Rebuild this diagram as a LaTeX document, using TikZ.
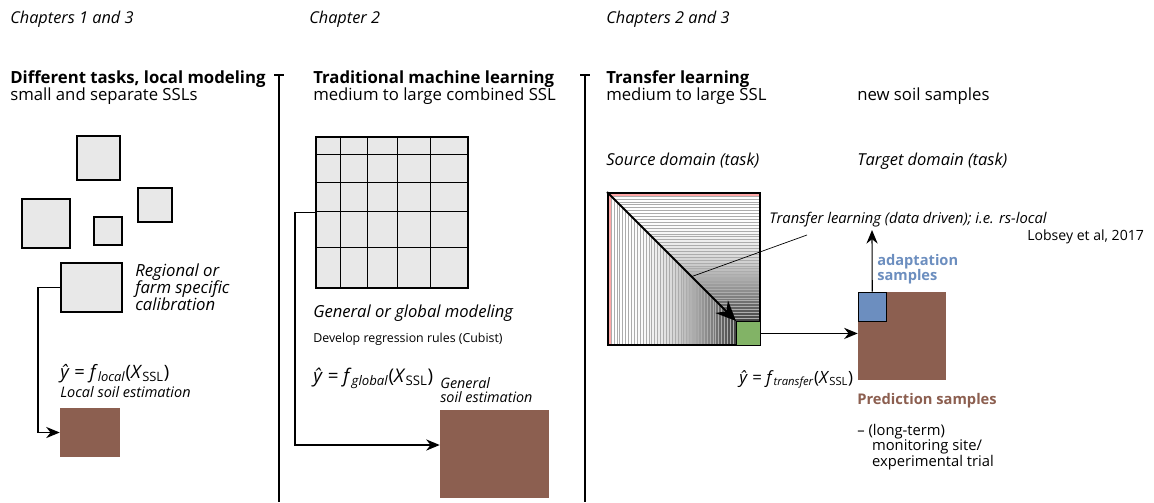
\documentclass[tikz,border=0pt]{standalone}
\usepackage{fontspec}
\setmainfont{Open Sans}
\usetikzlibrary{arrows.meta, positioning, calc}

\definecolor{soilbrown}{RGB}{140,95,80}
\definecolor{adaptblue}{RGB}{108,142,191}
\definecolor{srcgreen}{RGB}{130,179,102}
\definecolor{sslgray}{RGB}{232,232,232}

\begin{document}
\begin{tikzpicture}[
        x=0.025cm, y=-0.025cm,
        conn/.style={-{Stealth[length=3.4mm, width=2.8mm]}, line width=0.8pt},
        bigarr/.style={-{Stealth[length=5mm, width=4.4mm, inset=1.6mm]}, line width=1.5pt},
        sepline/.style={line width=0.8pt},
        px/.style 2 args={minimum width=#1*0.025cm, minimum height=#2*0.025cm},
        sslbox/.style={draw, line width=1.4pt, fill=sslgray, inner sep=0pt},
        soilbox/.style={fill=soilbrown, inner sep=0pt},
        chap/.style={anchor=base west, inner sep=0pt, font=\fontsize{11.6}{14}\selectfont\itshape},
        head/.style={anchor=base west, inner sep=0pt, font=\fontsize{11.9}{14}\selectfont\bfseries},
        lbl/.style={anchor=base west, inner sep=0pt, font=\fontsize{11.9}{14}\selectfont},
        ilbl/.style={anchor=base west, inner sep=0pt, font=\fontsize{11.7}{14}\selectfont\itshape},
        snote/.style={anchor=base west, inner sep=0pt, font=\fontsize{10.3}{12}\selectfont\itshape},
        formula/.style={anchor=base west, inner sep=0pt},
    ]
    \useasboundingbox (0,0) rectangle (1154,502);

    %% ---- Chapter labels ----
    \node[chap] (chapA) at (10,23.5) {Chapters 1 and 3};
    \node[chap] (chapB) at (309,23.5) {Chapter 2};
    \node[chap] (chapC) at (606,23.5) {Chapters 2 and 3};

    %% ---- Separators ----
    \draw[sepline] (279,75) -- (279,502);
    \draw[sepline] (274,75) -- (284,75);
    \draw[sepline] (585,75) -- (585,502);
    \draw[sepline] (580,75) -- (590,75);

    %% ---- Column 1: local modeling ----
    \node[head] (headA) at (10,83) {Different tasks, local modeling};
    \node[lbl] (subA) at (10,100) {small and separate SSLs};

    % separate small libraries
    \node[sslbox, px={43}{44}] (sslA) at (98.5,158) {};
    \node[sslbox, px={48}{49}] (sslB) at (46,223.5) {};
    \node[sslbox, px={28}{28}] (sslC) at (108,231) {};
    \node[sslbox, px={34}{34}] (sslD) at (155,205) {};
    \node[sslbox, px={61}{49}] (regbox) at (91.5,287.5) {};
    \node[anchor=north west, inner sep=0pt, align=left,
          font=\fontsize{11.9}{12.2}\selectfont\itshape] (regtext) at (135,263)
        {Regional or\\farm specific\\calibration};

    \node[formula, font=\fontsize{13.1}{15}\selectfont] (localfx) at (60,378)
        {\textit{ŷ} = \textit{f}\textsubscript{\textit{local}}(\textit{X}\textsubscript{SSL})};
    \node[snote] (localtext) at (60,397) {Local soil estimation};
    \node[soilbox, px={60}{49}] (localsoil) at (90,432.5) {};

    \draw[conn] (regbox.west) -- ++(-22,0) |- (localsoil.west);

    %% ---- Column 2: traditional machine learning ----
    \node[head] (headB) at (313,83) {Traditional machine learning};
    \node[lbl] (subB) at (313,100) {medium to large combined SSL};

    % combined library as one grid
    \node[sslbox, px={152}{151}] (globalssl) at (392,212.5) {};
    \foreach \gx in {340,367,397,430}
        \draw[line width=0.6pt] (\gx,137) -- (\gx,288);
    \foreach \gy in {154,182,211,247}
        \draw[line width=0.6pt] (316,\gy) -- (468,\gy);

    \node[ilbl, font=\fontsize{11.8}{14}\selectfont\itshape] (globaltext) at (313,317)
        {General or global modeling};
    \node[anchor=base west, inner sep=0pt, font=\fontsize{8.8}{10}\selectfont] (cubist) at (313,342)
        {Develop regression rules (Cubist)};
    \node[formula, font=\fontsize{13.4}{16}\selectfont] (globalfx) at (313,382)
        {\textit{ŷ} = \textit{f}\textsubscript{\textit{global}}(\textit{X}\textsubscript{SSL})};
    \node[anchor=north west, inner sep=0pt, align=left,
          font=\fontsize{10.2}{10}\selectfont\itshape] (globalest) at (440,377)
        {General\\soil estimation};
    \node[soilbox, px={109}{88}] (globalsoil) at (494.5,454) {};

    \draw[conn] (globalssl.west) -- ++(-20,0) |- ([yshift=0.225cm]globalsoil.west);

    %% ---- Column 3: transfer learning ----
    \node[head] (headC) at (606,83) {Transfer learning};
    \node[lbl] (subC) at (606,100) {medium to large SSL};
    \node[lbl] (newsoil) at (857,100) {new soil samples};
    \node[ilbl] (srctext) at (606,165) {Source domain (task)};
    \node[ilbl] (tgttext) at (857,165) {Target domain (task)};

    % nested squares shrinking to the bottom right corner
    \foreach \i in {1,...,44} {
        \pgfmathsetmacro{\d}{\i*128/44}
        \pgfmathsetmacro{\op}{0.00004*\i*\i}
        \draw[gray!65, line width=0.3pt, fill=black, fill opacity=\op]
            (608+\d,193+\d) rectangle (760,345);
    }
    \draw[red!35, line width=0.8pt] (610,345) -- (610,195) -- (760,195);
    \node[draw, line width=1.3pt, inner sep=0pt, px={152}{152}] (srcdomain) at (684,269) {};
    \node[draw, fill=srcgreen, line width=0.7pt, inner sep=0pt, px={24}{24},
          anchor=south east] (srcpart) at (srcdomain.south east) {};
    \draw[bigarr] (srcdomain.north west) -- (srcpart.north west);

    \node[ilbl, font=\fontsize{10.5}{13}\selectfont\itshape] (tltext) at (769,223)
        {Transfer learning (data driven); i.e. rs-local};
    \node[anchor=base west, inner sep=0pt, font=\fontsize{10}{12}\selectfont] (lobsey) at (1027,240)
        {Lobsey et al, 2017};
    \coordinate (tlpoint) at (807,235);
    \coordinate (diagmid) at ($(srcdomain.north west)!0.656!(srcpart.north west)$);
    \draw[line width=0.5pt] (tlpoint) -- (diagmid);

    \node[formula, font=\fontsize{12}{14}\selectfont] (transferfx) at (739,383)
        {\textit{ŷ} = \textit{f}\textsubscript{\textit{transfer}}(\textit{X}\textsubscript{SSL})};

    % target domain
    \node[soilbox, px={88}{88}] (predsoil) at (902,336) {};
    \node[draw, fill=adaptblue, line width=0.7pt, inner sep=0pt, px={28}{29},
          anchor=north west] (adaptbox) at (predsoil.north west) {};
    \coordinate (adapttop) at (872,230);
    \draw[conn] (adaptbox.north) -- (adapttop);
    \draw[conn] (srcpart.east) -- (srcpart.east -| predsoil.west);

    \node[anchor=north west, inner sep=0pt, align=left, text=adaptblue,
          font=\fontsize{10.4}{10.5}\selectfont\bfseries] (adapttext) at (877,254)
        {adaptation\\samples};
    \node[anchor=base west, inner sep=0pt, text=soilbrown,
          font=\fontsize{10.45}{12}\selectfont\bfseries] (predtext) at (857,404)
        {Prediction samples};
    \node[anchor=north west, inner sep=0pt, align=left,
          font=\fontsize{10.5}{11}\selectfont] (sitetext) at (857,424)
        {-- (long-term)\\\hspace*{10.5pt}monitoring site/\\\hspace*{10.5pt}experimental trial};

\end{tikzpicture}
\end{document}
